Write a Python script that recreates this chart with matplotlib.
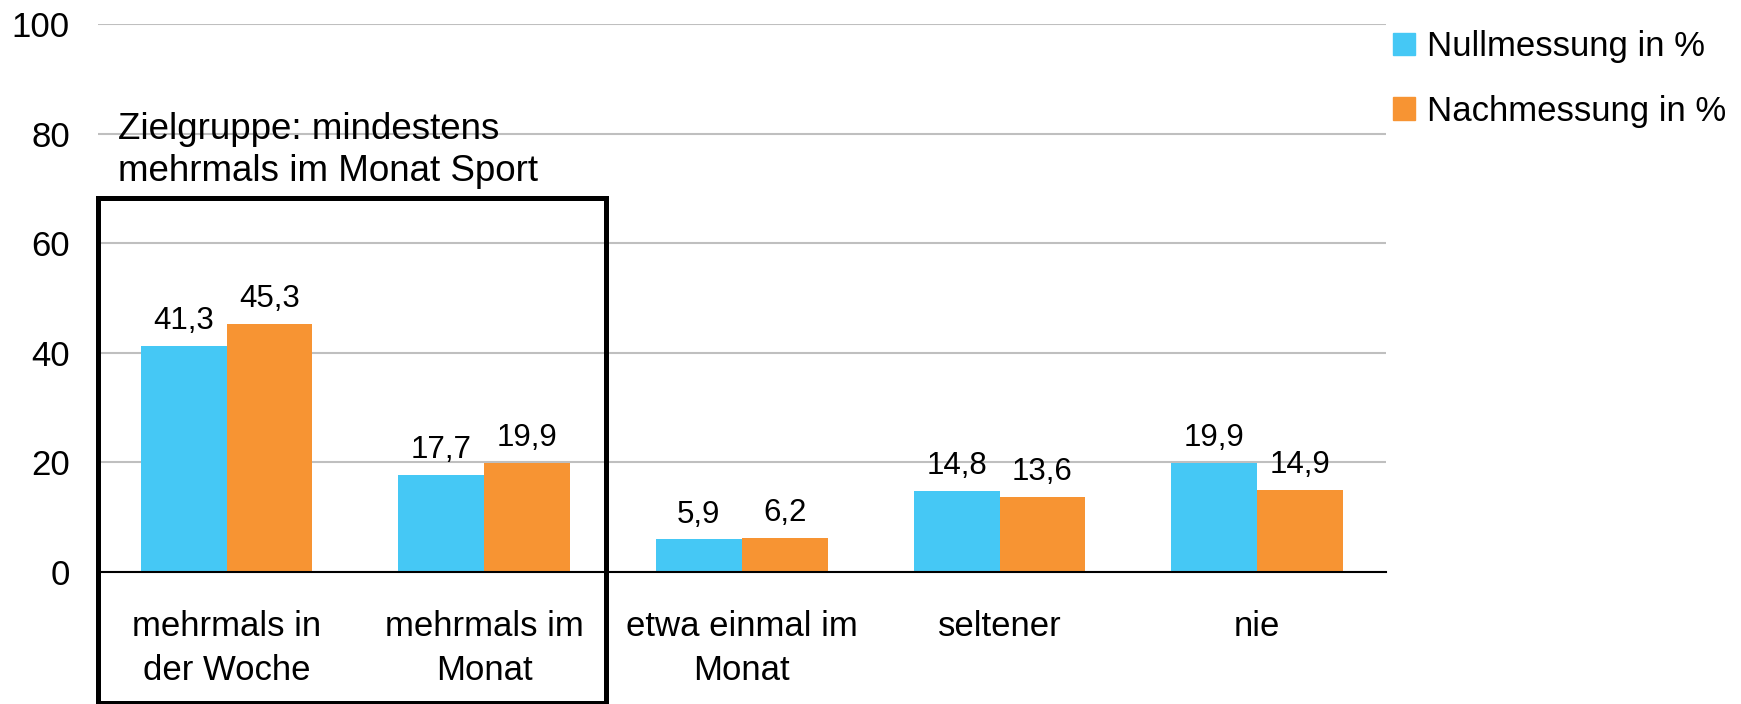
import numpy as np
import matplotlib
matplotlib.use('Agg')
import matplotlib.pyplot as plt
from matplotlib.patches import Rectangle, Patch

plt.rcParams['font.family'] = ['Liberation Sans', 'DejaVu Sans']

categories = ['mehrmals in\nder Woche', 'mehrmals im\nMonat', 'etwa einmal im\nMonat', 'seltener', 'nie']
null_vals = [41.3, 17.7, 5.9, 14.8, 19.9]
nach_vals = [45.3, 19.9, 6.2, 13.6, 14.9]
series_names = ['Nullmessung in %', 'Nachmessung in %']
note = 'Zielgruppe: mindestens\nmehrmals im Monat Sport'

blue = '#45C8F5'
orange = '#F79433'

fig = plt.figure(figsize=(17.41, 7.04), dpi=100)
ax = fig.add_axes([0.0561, 0.1882, 0.7400, 0.7771])

x = np.arange(len(categories))
w = 1 / 3
b1 = ax.bar(x - w / 2, null_vals, w, color=blue, zorder=3)
b2 = ax.bar(x + w / 2, nach_vals, w, color=orange, zorder=3)

for bars, vals in ((b1, null_vals), (b2, nach_vals)):
    for r, v in zip(bars, vals):
        ax.annotate(f'{v:.1f}'.replace('.', ','), (r.get_x() + r.get_width() / 2, v),
                    xytext=(0, 12), textcoords='offset points',
                    ha='center', va='baseline', fontsize=22.5, zorder=4)

ax.set_xlim(-0.5, len(categories) - 0.5)
ax.set_ylim(0, 100)
ax.set_yticks(range(0, 101, 20))
ax.yaxis.grid(True, color='#BFBFBF', linewidth=1.5, zorder=0)
ax.set_axisbelow(True)
ax.tick_params(axis='y', length=0, pad=20, labelsize=25)
ax.tick_params(axis='x', length=0, pad=28, labelsize=25)
ax.set_xticks(x)
ax.set_xticklabels(categories, linespacing=1.42)
for s in ['left', 'right', 'top']:
    ax.spines[s].set_visible(False)
ax.spines['bottom'].set_color('black')
ax.spines['bottom'].set_linewidth(1.5)
ax.spines['bottom'].set_zorder(5)

# box around target group
ax.add_patch(Rectangle((-0.5, -24.1), 1.972, 92.4, fill=False, edgecolor='black',
                       linewidth=3.6, clip_on=False, zorder=6))
ax.text(-0.421, 71.4, note, fontsize=26.5, ha='left', va='baseline', linespacing=1.25)

handles = [Patch(color=blue), Patch(color=orange)]
fig.legend(handles, series_names, loc='upper left', bbox_to_anchor=(0.800, 0.957),
           frameon=False, fontsize=25, handlelength=0.63, handleheight=0.63,
           handletextpad=0.35, labelspacing=0.9, borderpad=0, borderaxespad=0)

fig.savefig('out.png', dpi=100)
